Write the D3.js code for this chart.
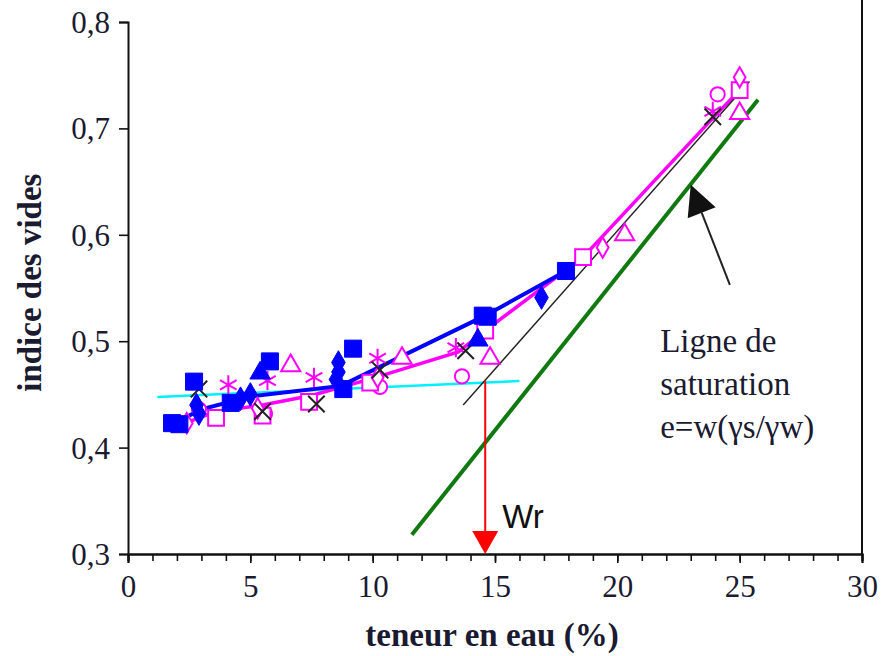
<!DOCTYPE html>
<html>
<head>
<meta charset="utf-8">
<script src="https://cdn.jsdelivr.net/npm/d3@7"></script>
<style>
  body { margin: 0; background: #fff; }
  svg text { font-family: "Liberation Serif", "DejaVu Serif", serif; fill: #1a1a30; }
</style>
</head>
<body>
<div id="chart-container"><svg></svg></div>
<script>
const chartSize = {width: 881, height: 656};
const margin = {left: 128, right: 19, top: 22, bottom: 102};

const width = chartSize.width - margin.left - margin.right;
const height = chartSize.height - margin.top - margin.bottom;

// water content (%) / void ratio pairs, read per marker type
const blueSquares = [[1.8, 0.423], [2.1, 0.422], [2.7, 0.462], [4.2, 0.442], [5.8, 0.481],
  [8.8, 0.455], [9.2, 0.493], [14.5, 0.524], [14.7, 0.523], [17.9, 0.566]];
const blueDiamonds = [[2.8, 0.44], [2.9, 0.432], [4.6, 0.446], [5.0, 0.45], [8.6, 0.48],
  [8.6, 0.471], [8.5, 0.464], [16.9, 0.541]];
const blueTriangles = [[5.4, 0.47], [14.3, 0.501]];
const pinkSquares = [[3.6, 0.428], [5.5, 0.43], [7.4, 0.443], [9.9, 0.461], [14.6, 0.51],
  [18.6, 0.579], [25.0, 0.736]];
const pinkTriangles = [[6.65, 0.477], [11.2, 0.484], [14.8, 0.484], [20.3, 0.6], [25.0, 0.714]];
const pinkCircles = [[2.9, 0.436], [5.6, 0.432], [10.3, 0.457], [13.65, 0.467], [24.1, 0.732]];
const pinkDiamonds = [[2.4, 0.423], [5.3, 0.437], [10.2, 0.466], [19.4, 0.588], [25.0, 0.748]];
const pinkStars = [[4.1, 0.459], [5.7, 0.463], [7.6, 0.466], [10.2, 0.484], [13.4, 0.494], [23.9, 0.716]];
const blackCrosses = [[2.9, 0.455], [5.5, 0.434], [7.7, 0.441], [10.3, 0.473], [13.8, 0.491], [23.9, 0.711]];

// trend curves
const blueCurve = [[1.9, 0.423], [3.0, 0.436], [5.0, 0.448], [8.7, 0.458], [14.6, 0.524], [17.9, 0.566]];
const pinkCurve = [[2.0, 0.42], [3.6, 0.434], [5.5, 0.44], [7.5, 0.449], [10.0, 0.465], [13.5, 0.49],
  [14.6, 0.51], [18.6, 0.579], [24.0, 0.712], [25.0, 0.736]];
const cyanLine = [[1.2, 0.4476], [16.0, 0.4626]];
const blackLine = [[13.7, 0.44], [25.4, 0.744]];
const saturationLine = [[11.6, 0.318], [25.75, 0.727]];
const wr = 14.6;
const wrTop = 0.463;

const xTicks = [0, 5, 10, 15, 20, 25, 30];
const xMinorTicks = d3.range(0, 31, 1);
const yTicks = [0.3, 0.4, 0.5, 0.6, 0.7, 0.8];
const noteLines = ["Ligne de", "saturation", "e=w(\u03b3s/\u03b3w)"];

const blue = "#0000ff";
const pink = "#ff00ff";
const serif = "'Liberation Serif', 'DejaVu Serif', serif";

const main = () => {
  const svg = d3.select("#chart-container svg")
    .attr("width", chartSize.width)
    .attr("height", chartSize.height);

  const g = svg.append("g")
    .attr("transform", `translate(${margin.left},${margin.top})`);

  const x = d3.scaleLinear().domain([0, 30]).range([0, width]);
  const y = d3.scaleLinear().domain([0.3, 0.8]).range([height, 0]);
  const fmt = d => d3.format(".1f")(d).replace(".", ",");

  // axes
  const yAxis = g.append("g").call(d3.axisLeft(y).tickValues(yTicks).tickFormat(fmt).tickSize(9));
  const xMinor = g.append("g").attr("transform", `translate(0,${height})`)
    .call(d3.axisBottom(x).tickValues(xMinorTicks).tickFormat("").tickSize(7));
  const xAxis = g.append("g").attr("transform", `translate(0,${height})`)
    .call(d3.axisBottom(x).tickValues(xTicks).tickFormat(d3.format("d")).tickSize(9));
  [yAxis, xMinor, xAxis].forEach(a => {
    a.attr("font-family", serif);
    a.select(".domain").attr("stroke", "#111").attr("stroke-width", 2);
    a.selectAll(".tick line").attr("stroke", "#111").attr("stroke-width", 1.6);
  });
  yAxis.selectAll("text").attr("font-size", 31).attr("x", -18).attr("dy", "0.34em");
  xAxis.selectAll("text").attr("font-size", 31).attr("y", 21).attr("dy", "0.7em");

  g.append("line")
    .attr("x1", width).attr("x2", width)
    .attr("y1", -margin.top).attr("y2", height)
    .attr("stroke", "#111").attr("stroke-width", 2);

  g.append("text")
    .attr("x", width / 2 - 3).attr("y", height + 92)
    .attr("text-anchor", "middle")
    .attr("font-size", 33).attr("font-weight", "bold")
    .text("teneur en eau (%)");

  g.append("text")
    .attr("transform", `translate(${-87},${y(0.555)}) rotate(-90)`)
    .attr("text-anchor", "middle")
    .attr("font-size", 33).attr("font-weight", "bold")
    .text("indice des vides");

  const line = d3.line().x(d => x(d[0])).y(d => y(d[1]));

  // reference lines
  g.append("path").attr("d", line(cyanLine))
    .attr("fill", "none").attr("stroke", "#00f0ff").attr("stroke-width", 2.5);
  g.append("path").attr("d", line(saturationLine))
    .attr("fill", "none").attr("stroke", "#107a10").attr("stroke-width", 4);

  // curves
  g.append("path").attr("d", line(pinkCurve))
    .attr("fill", "none").attr("stroke", pink).attr("stroke-width", 3.5);
  g.append("path").attr("d", line(blueCurve))
    .attr("fill", "none").attr("stroke", blue).attr("stroke-width", 4);
  g.append("path").attr("d", line(blackLine))
    .attr("fill", "none").attr("stroke", "#222").attr("stroke-width", 1.4);

  const drawMarkers = (data, type, size, fill, stroke, sw) => {
    g.append("g").selectAll("path")
      .data(data)
      .join("path")
      .attr("transform", d => `translate(${x(d[0])},${y(d[1])})`)
      .attr("d", d3.symbol().type(type).size(size))
      .attr("fill", fill)
      .attr("stroke", stroke)
      .attr("stroke-width", sw);
  };

  drawMarkers(pinkCircles, d3.symbolCircle, 160, "#fff", pink, 2);
  drawMarkers(pinkSquares, d3.symbolSquare, 250, "#fff", pink, 2);
  drawMarkers(pinkTriangles, d3.symbolTriangle, 160, "#fff", pink, 2);
  drawMarkers(pinkDiamonds, d3.symbolDiamond, 120, "#fff", pink, 2);
  drawMarkers(pinkStars, d3.symbolAsterisk, 260, "none", pink, 2);
  drawMarkers(blackCrosses, d3.symbolTimes, 180, "none", "#222", 2);
  drawMarkers(blueDiamonds, d3.symbolDiamond, 160, blue, blue, 1);
  drawMarkers(blueTriangles, d3.symbolTriangle, 180, blue, blue, 1);
  drawMarkers(blueSquares, d3.symbolSquare, 290, blue, blue, 1);

  // Wr arrow down to the axis
  g.append("line")
    .attr("x1", x(wr)).attr("x2", x(wr))
    .attr("y1", y(wrTop)).attr("y2", height - 20)
    .attr("stroke", "#ff0000").attr("stroke-width", 2);
  g.append("path")
    .attr("d", `M${x(wr) - 13},${height - 23}L${x(wr) + 13},${height - 23}L${x(wr)},${height}Z`)
    .attr("fill", "#ff0000");
  g.append("text")
    .attr("x", x(wr) + 17).attr("y", y(0.3) - 26)
    .attr("font-size", 33)
    .style("font-family", "'Liberation Sans', Arial, sans-serif")
    .style("fill", "#111")
    .text("Wr");

  // saturation note and its arrow
  const tip = [x(23.0), y(0.647)];
  const tail = [x(24.6), y(0.553)];
  const ang = Math.atan2(tip[1] - tail[1], tip[0] - tail[0]);
  const hl = 30, hw = 15;
  const bx = tip[0] - hl * Math.cos(ang), by = tip[1] - hl * Math.sin(ang);
  g.append("line")
    .attr("x1", tail[0]).attr("y1", tail[1])
    .attr("x2", bx).attr("y2", by)
    .attr("stroke", "#222").attr("stroke-width", 2);
  g.append("path")
    .attr("d", `M${tip[0]},${tip[1]}L${bx + hw * Math.sin(ang)},${by - hw * Math.cos(ang)}` +
      `L${bx - hw * Math.sin(ang)},${by + hw * Math.cos(ang)}Z`)
    .attr("fill", "#111");

  g.append("text")
    .attr("x", x(21.75)).attr("y", y(0.49))
    .attr("font-size", 33)
    .selectAll("tspan")
    .data(noteLines)
    .join("tspan")
    .attr("x", x(21.75))
    .attr("dy", (d, i) => i === 0 ? 0 : 43)
    .text(d => d);
};

window.onload = main;
</script>
</body>
</html>
